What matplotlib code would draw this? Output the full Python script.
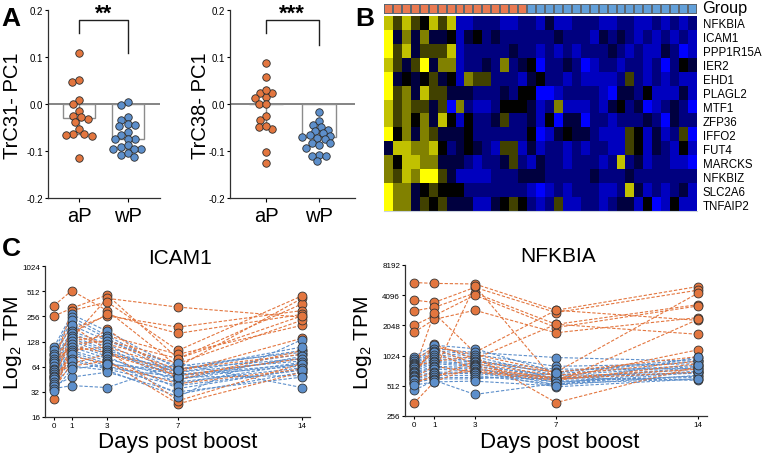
import numpy as np
import matplotlib
matplotlib.use("Agg")
import matplotlib.pyplot as plt
from matplotlib.colors import LinearSegmentedColormap, ListedColormap
from matplotlib.ticker import NullLocator

plt.rcParams["font.family"] = ["Liberation Sans", "DejaVu Sans"]
plt.rcParams["mathtext.fontset"] = "custom"
plt.rcParams["mathtext.rm"] = "Liberation Sans"

ORANGE = "#E3763F"
BLUE = "#5D8FCB"

# ---------------------------------------------------------------- panel A data
groups = ["aP", "wP"]
trc31_aP = [0.109, 0.046, 0.051, 0.008, 0.001, -0.014, -0.032, -0.028, -0.025,
            -0.038, -0.053, -0.063, -0.068, -0.063, -0.066, -0.114]
trc31_wP = [0.004, -0.002, -0.027, -0.033, -0.042, -0.046, -0.044, -0.060, -0.065,
            -0.074, -0.074, -0.074, -0.091, -0.088, -0.096, -0.096, -0.095,
            -0.109, -0.105, -0.112]
trc38_aP = [0.088, 0.057, 0.014, 0.023, 0.023, 0.030, 0.012, -0.001, 0.000,
            -0.026, -0.033, -0.049, -0.054, -0.046, -0.103, -0.126]
trc38_wP = [-0.018, -0.036, -0.049, -0.045, -0.058, -0.055, -0.062, -0.067, -0.070,
            -0.068, -0.072, -0.075, -0.084, -0.082, -0.087, -0.093, -0.108,
            -0.110, -0.110, -0.121]

# ---------------------------------------------------------------- panel B data
genes = ["NFKBIA", "ICAM1", "PPP1R15A", "IER2", "EHD1", "PLAGL2", "MTF1",
         "ZFP36", "IFFO2", "FUT4", "MARCKS", "NFKBIZ", "SLC2A6", "TNFAIP2"]
n_aP_samples = 16
n_wP_samples = 19
# 0 = bright blue, 4 = black, 8 = bright yellow
heat_rows = [
    "75754757" "11222" "11221" "31122" "21122" "11212" "12",
    "83636334" "13423" "22222" "23222" "13232" "12121" "21",
    "85735557" "12222" "23221" "21212" "22321" "21132" "01",
    "75358366" "12232" "62340" "22320" "12212" "21202" "43",
    "83434534" "16552" "22134" "22121" "11125" "21212" "11",
    "85637553" "33222" "32440" "01222" "21033" "24111" "31",
    "75655350" "62112" "44431" "26111" "21342" "30123" "20",
    "75646374" "14223" "52231" "40330" "22122" "23203" "22",
    "84636533" "34222" "22240" "13433" "21115" "41312" "50",
    "37766742" "34321" "55131" "22121" "22115" "41321" "41",
    "64776633" "32122" "35213" "22122" "21272" "31221" "10",
    "65768853" "11112" "22333" "22222" "32223" "22222" "22",
    "86634544" "42222" "22210" "12122" "21127" "31212" "31",
    "86635453" "33113" "45421" "25112" "21233" "14014" "11",
]

# ---------------------------------------------------------------- panel C data
days = [0, 1, 3, 7, 14]
icam1_aP = [
    [345, 520, 300, 64, 420], [258, 320, 460, 80, 360], [26, 140, 420, 330, 250],
    [60, 180, 260, 190, 300], [45, 160, 270, 160, 270], [70, 300, 380, 100, 450],
    [50, 130, 150, 90, 200], [80, 150, 120, 70, 230], [40, 100, 110, 60, 90],
    [35, 70, 90, 50, 80], [55, 65, 75, 23, 55], [90, 200, 100, 25, 70],
    [65, 120, 130, 80, 260], [38, 90, 180, 45, 100], [75, 110, 95, 55, 140],
    [48, 85, 70, 40, 60],
]
icam1_wP = [
    [110, 270, 170, 60, 100], [100, 250, 150, 55, 90], [90, 230, 140, 50, 80],
    [85, 200, 130, 65, 95], [80, 170, 120, 45, 85], [75, 160, 110, 40, 70],
    [70, 150, 100, 55, 75], [65, 140, 95, 50, 65], [60, 130, 90, 60, 80],
    [58, 120, 85, 35, 60], [55, 110, 80, 45, 72], [52, 100, 75, 30, 55],
    [50, 95, 70, 52, 68], [48, 90, 65, 42, 62], [45, 80, 62, 48, 50],
    [42, 75, 60, 38, 58], [40, 65, 58, 28, 135], [38, 48, 55, 32, 48],
    [35, 38, 36, 70, 36], [33, 60, 68, 58, 110],
]
nfkbia_aP = [
    [5480, 5370, 5300, 2900, 5000], [3660, 3470, 4900, 2750, 4600],
    [2860, 3100, 4300, 2100, 3300], [2050, 2560, 4100, 1950, 3200],
    [1745, 2350, 2900, 1730, 2450], [720, 2700, 1100, 2900, 2300],
    [650, 1330, 950, 2100, 1670], [600, 700, 5100, 560, 2350],
    [560, 620, 900, 700, 4300], [343, 560, 800, 600, 1170],
    [800, 900, 1000, 348, 800], [680, 1200, 850, 650, 900],
    [760, 1100, 750, 620, 750], [620, 800, 700, 580, 850],
    [900, 1250, 1050, 700, 1000], [540, 650, 720, 600, 700],
]
nfkbia_wP = [
    [1000, 1300, 1200, 700, 950], [950, 1200, 1100, 980, 900],
    [900, 1150, 1050, 800, 850], [870, 1100, 1000, 650, 800],
    [850, 1050, 950, 600, 780], [820, 1000, 900, 750, 760],
    [800, 950, 880, 700, 900], [780, 900, 850, 600, 700],
    [750, 880, 820, 550, 720], [720, 850, 800, 650, 680],
    [700, 800, 780, 520, 650], [680, 780, 750, 580, 620],
    [660, 750, 720, 500, 600], [640, 700, 700, 620, 580],
    [620, 680, 680, 560, 640], [600, 650, 650, 530, 700],
    [580, 620, 620, 600, 750], [550, 600, 600, 680, 820],
    [460, 580, 420, 540, 600], [520, 560, 570, 510, 1000],
]

# ---------------------------------------------------------------- layout
W, H = 762, 456
fig = plt.figure(figsize=(W / 100, H / 100), dpi=100)


def add_ax(l, t, r, b):
    return fig.add_axes([l / W, 1 - b / H, (r - l) / W, (b - t) / H])


def ftxt(x, y, s, **kw):
    kw.setdefault("ha", "center")
    kw.setdefault("va", "center")
    fig.text(x / W, 1 - y / H, s, **kw)


def style_spines(ax):
    for s in ["top", "right"]:
        ax.spines[s].set_visible(False)
    for s in ["left", "bottom"]:
        ax.spines[s].set_linewidth(0.9)
        ax.spines[s].set_color("#303030")


def swarm_x(ax, x0, vals, diam):
    (xa, xb), (ya, yb) = ax.get_xlim(), ax.get_ylim()
    sx = ax.bbox.width / (xb - xa)
    sy = ax.bbox.height / (yb - ya)
    cands = sorted(np.arange(-8, 8.5, 0.5) * diam * 0.5, key=abs)
    placed = []
    out = np.zeros(len(vals))
    for i in np.argsort(vals)[::-1]:
        py = vals[i] * sy
        for c in cands:
            if all((c - qx) ** 2 + (py - qy) ** 2 >= (diam * 0.86) ** 2 for qx, qy in placed):
                break
        placed.append((c, py))
        out[i] = x0 + c / sx
    return out


def pc_panel(ax, aP, wP, xlim, right_arm):
    ax.set_xlim(xlim)
    ax.set_ylim(-0.2, 0.2)
    style_spines(ax)
    ax.axhline(0, color="#707070", lw=1.2, zorder=1)
    for i, (vals, col) in enumerate([(aP, ORANGE), (wP, BLUE)]):
        vals = np.asarray(vals)
        med = np.median(vals)
        q1, q3 = np.percentile(vals, [25, 75])
        ax.bar(i, med, width=0.65, facecolor="none", edgecolor="#8c8c8c", lw=1.0, zorder=2)
        ax.errorbar(i, med, yerr=[[med - q1], [q3 - med]], color="#8c8c8c", lw=1.0,
                    capsize=2, capthick=1.0, zorder=2)
        xs = swarm_x(ax, i, vals, 7.4)
        ax.scatter(xs, vals, s=29, color=col, edgecolor="#2b2b2b", lw=0.6, zorder=3)
    ax.plot([0, 0, 1, 1], [0.152, 0.179, 0.179, right_arm], color="#202020", lw=1.0)
    ax.set_xticks([0, 1])
    ax.set_xticklabels(groups, fontsize=14.5)
    ax.set_yticks([-0.2, -0.1, 0.0, 0.1, 0.2])
    ax.set_yticklabels(["-0.2", "-0.1", "0.0", "0.1", "0.2"])
    ax.tick_params(axis="y", labelsize=7, length=2, pad=1.5, width=0.8)
    ax.tick_params(axis="x", length=3, pad=3, width=0.8)


axA1 = add_ax(48, 11, 160, 199)
axA2 = add_ax(230, 11, 355, 199)
pc_panel(axA1, trc31_aP, trc31_wP, (-0.63, 1.65), 0.109)
pc_panel(axA2, trc38_aP, trc38_wP, (-0.68, 1.68), 0.125)

# ---------------------------------------------------------------- panel B
axG = add_ax(384, 5, 697, 15)
axB = add_ax(384, 17, 697, 212)
group_codes = np.array([[0] * n_aP_samples + [1] * n_wP_samples])
axG.pcolormesh(group_codes, cmap=ListedColormap(["#EA7A52", "#62A0DA"]),
               edgecolors="#5c6670", linewidth=1.1)
axG.set_axis_off()

heat = np.array([[int(c) for c in row] for row in heat_rows], dtype=float)
cmap = LinearSegmentedColormap.from_list("by", ["#0000FF", "#000000", "#FFFF00"])
axB.imshow(heat, cmap=cmap, vmin=0, vmax=8, aspect="auto", interpolation="nearest")
axB.yaxis.tick_right()
axB.set_yticks(range(len(genes)))
axB.set_yticklabels(genes, fontsize=8.3)
axB.set_xticks([])
axB.tick_params(axis="y", length=0, pad=4)
for s in axB.spines.values():
    s.set_visible(False)
axB.spines["bottom"].set_visible(True)
axB.spines["bottom"].set_color("#c9d2dc")

# ---------------------------------------------------------------- panel C


def tpm_panel(ax, aP, wP, xlim, yticks):
    ax.set_yscale("log", base=2)
    dash = (0, (3, 1.6))
    for subj in wP:
        ax.plot(days, subj, ls=dash, color=BLUE, lw=0.8, zorder=2)
    for subj in aP:
        ax.plot(days, subj, ls=dash, color=ORANGE, lw=0.8, zorder=2)
    for subj in aP:
        ax.plot(days, subj, "o", ls="none", ms=6.4, mfc=ORANGE, mec="#333333", mew=0.6, zorder=3)
    for subj in wP:
        ax.plot(days, subj, "o", ls="none", ms=6.4, mfc=BLUE, mec="#333333", mew=0.6, zorder=4)
    ax.set_xlim(xlim)
    ax.set_ylim(yticks[0], yticks[-1])
    ax.set_yticks(yticks)
    ax.set_yticklabels([str(v) for v in yticks])
    ax.yaxis.set_minor_locator(NullLocator())
    ax.set_xticks(days)
    ax.set_xticklabels([str(d) for d in days])
    ax.tick_params(labelsize=5.8, length=2, pad=1.5, width=0.8)
    style_spines(ax)


axC1 = add_ax(45, 267, 310, 418)
axC2 = add_ax(405, 266, 707, 417)
tpm_panel(axC1, icam1_aP, icam1_wP, (-0.51, 14.45), [16, 32, 64, 128, 256, 512, 1024])
tpm_panel(axC2, nfkbia_aP, nfkbia_wP, (-0.44, 14.44), [256, 512, 1024, 2048, 4096, 8192])

# ---------------------------------------------------------------- text
ftxt(11, 19, "A", fontsize=19, fontweight="bold")
ftxt(365, 19, "B", fontsize=19, fontweight="bold")
ftxt(11, 249, "C", fontsize=19, fontweight="bold")
ftxt(104, 14, "**", fontsize=16, fontweight="bold")
ftxt(292, 14, "***", fontsize=16, fontweight="bold")
ftxt(12.5, 106, "TrC31- PC1", fontsize=14.5, rotation=90)
ftxt(200, 106, "TrC38- PC1", fontsize=14.5, rotation=90)
ftxt(702, 8, "Group", fontsize=11.7, ha="left")
ftxt(180, 258, "ICAM1", fontsize=15)
ftxt(558, 257, "NFKBIA", fontsize=15)
ftxt(178, 443, "Days post boost", fontsize=16)
ftxt(560, 443, "Days post boost", fontsize=16)
ftxt(13, 343, r"Log$_\mathregular{2}$ TPM", fontsize=15, rotation=90)
ftxt(363, 343, r"Log$_\mathregular{2}$ TPM", fontsize=15, rotation=90)

fig.savefig("out.png", dpi=100)
